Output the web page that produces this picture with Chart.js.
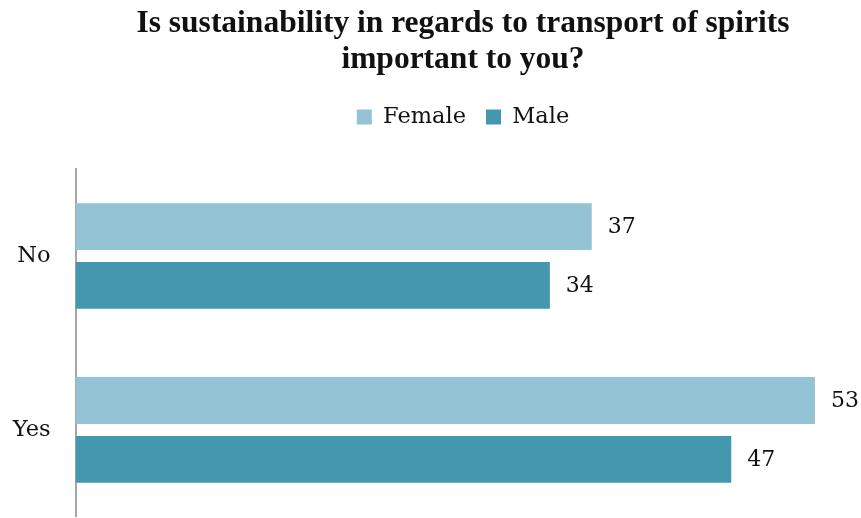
<!DOCTYPE html>
<html>
<head>
<meta charset="utf-8">
<script src="https://cdn.jsdelivr.net/npm/chart.js@4"></script>
<style>
    html, body { margin: 0; padding: 0; background: #fff; overflow: hidden; }
</style>
</head>
<body>
<canvas id="chart-survey" width="861" height="518"></canvas>
<script>
const categories = ['No', 'Yes'];
const femaleValues = [37, 53];
const maleValues = [34, 47];
const seriesNames = ['Female', 'Male'];
const chartTitle = ['Is sustainability in regards to transport of spirits', 'important to you?'];

const textFont = "'DejaVu Serif', serif";
const titleFont = "'Liberation Serif', serif";

// draws the number at the end of each bar
const barValueLabels = {
    id: 'barValueLabels',
    afterDatasetsDraw(chart) {
        const ctx = chart.ctx;
        ctx.save();
        ctx.font = "22px " + textFont;
        ctx.fillStyle = '#111';
        ctx.textAlign = 'left';
        ctx.textBaseline = 'middle';
        chart.data.datasets.forEach(function (dataset, i) {
            chart.getDatasetMeta(i).data.forEach(function (bar, index) {
                ctx.fillText(dataset.data[index], bar.x + 16, bar.y + 1);
            });
        });
        ctx.restore();
    }
};

new Chart(document.getElementById('chart-survey'), {
    type: 'bar',
    data: {
        labels: categories,
        datasets: [
            {
                label: seriesNames[0],
                data: femaleValues,
                backgroundColor: '#93c3d4',
                categoryPercentage: 0.676,
                barPercentage: 0.797
            },
            {
                label: seriesNames[1],
                data: maleValues,
                backgroundColor: '#4398b0',
                categoryPercentage: 0.676,
                barPercentage: 0.797
            }
        ]
    },
    options: {
        indexAxis: 'y',
        responsive: false,
        animation: false,
        // negative right padding moves the title and legend centre over the plot
        layout: { padding: { left: 5, right: -60, top: 0, bottom: 0 } },
        scales: {
            x: {
                position: 'top',
                min: 0,
                max: 56.3,
                grid: { display: false, drawTicks: false },
                border: { display: false },
                ticks: { display: false },
                afterFit: function (scale) { scale.height = 30.75; }
            },
            y: {
                grid: {
                    display: true,
                    drawOnChartArea: false,
                    drawTicks: true,
                    tickLength: 25,
                    tickColor: 'rgba(0,0,0,0)'
                },
                border: { display: true, color: '#a6a6a6', width: 2 },
                ticks: {
                    color: '#111',
                    padding: 0,
                    font: { family: textFont, size: 22.5, lineHeight: 0.1 }
                },
                afterFit: function (scale) { scale.width = 70.5; }
            }
        },
        plugins: {
            title: {
                display: true,
                text: chartTitle,
                color: '#111',
                font: { family: titleFont, size: 31.5, weight: 'bold', lineHeight: 1.143 },
                padding: { top: 6, bottom: 7.75 }
            },
            legend: {
                position: 'top',
                labels: {
                    color: '#111',
                    boxWidth: 15,
                    boxHeight: 15,
                    padding: 20,
                    font: { family: textFont, size: 22.5 }
                }
            },
            tooltip: { enabled: false }
        }
    },
    plugins: [barValueLabels]
});
</script>
</body>
</html>
